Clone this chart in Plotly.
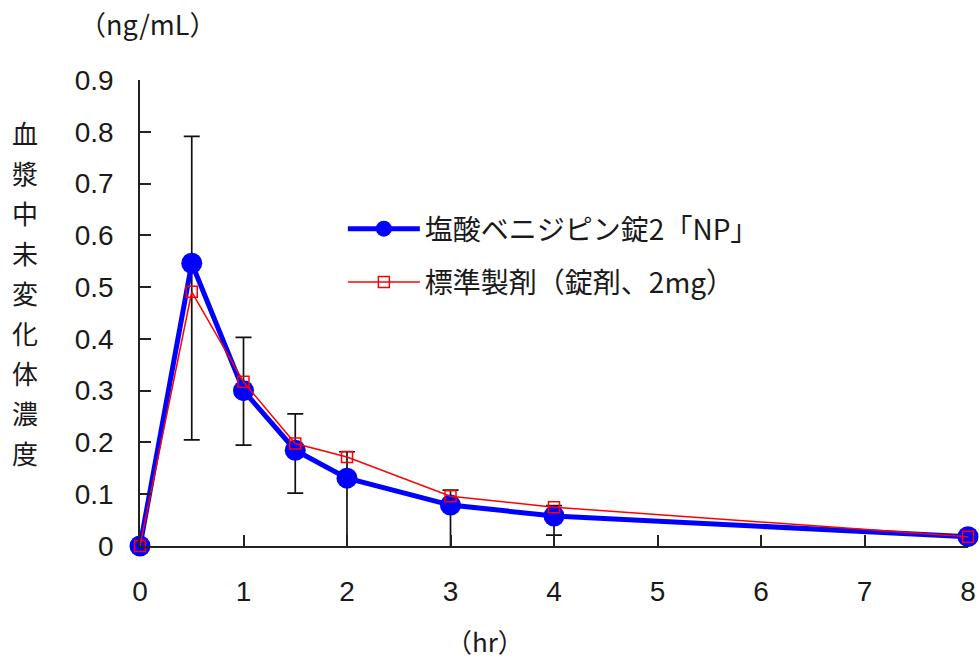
import plotly.graph_objects as go

time_hr = [0, 0.5, 1, 1.5, 2, 3, 4, 8]
test_drug = [0.0, 0.546, 0.300, 0.185, 0.131, 0.079, 0.058, 0.018]
reference_drug = [0.0, 0.491, 0.317, 0.198, 0.172, 0.096, 0.075, 0.018]
# error bar extents (absolute values)
err_center = [0.0, 0.491, 0.300, 0.185, 0.131, 0.079, 0.058, 0.018]
err_top = [0.0, 0.791, 0.403, 0.255, 0.182, 0.108, 0.078, 0.018]
err_bottom = [0.0, 0.205, 0.195, 0.102, -0.02, -0.02, 0.021, 0.018]

x_ticks = [0, 1, 2, 3, 4, 5, 6, 7, 8]
y_ticks = [0, 0.1, 0.2, 0.3, 0.4, 0.5, 0.6, 0.7, 0.8, 0.9]
y_tick_text = ["0", "0.1", "0.2", "0.3", "0.4", "0.5", "0.6", "0.7", "0.8", "0.9"]

name_test = "塩酸ベニジピン錠2「NP」"
name_ref = "標準製剤（錠剤、2mg）"
y_title = "血漿中未変化体濃度"

up = [t - c for t, c in zip(err_top, err_center)]
down = [c - b for c, b in zip(err_center, err_bottom)]
capped = [b >= 0 for b in err_bottom]

fig = go.Figure()

ERR_COLOR = "#111111"
# error bars with caps on both ends
fig.add_trace(go.Scatter(
    x=[t for t, k in zip(time_hr, capped) if k],
    y=[c for c, k in zip(err_center, capped) if k],
    mode="markers", marker=dict(size=1, color="rgba(0,0,0,0)"),
    error_y=dict(type="data", symmetric=False,
                 array=[u for u, k in zip(up, capped) if k],
                 arrayminus=[d for d, k in zip(down, capped) if k],
                 color=ERR_COLOR, thickness=1.7, width=8),
    showlegend=False, hoverinfo="skip", cliponaxis=False))
# error bars whose lower end runs below the axis (no lower cap visible)
fig.add_trace(go.Scatter(
    x=[t for t, k in zip(time_hr, capped) if not k],
    y=[c for c, k in zip(err_center, capped) if not k],
    mode="markers", marker=dict(size=1, color="rgba(0,0,0,0)"),
    error_y=dict(type="data", symmetric=False,
                 array=[u for u, k in zip(up, capped) if not k],
                 arrayminus=[0] * sum(1 for k in capped if not k),
                 color=ERR_COLOR, thickness=1.7, width=8),
    showlegend=False, hoverinfo="skip", cliponaxis=False))
fig.add_trace(go.Scatter(
    x=[t for t, k in zip(time_hr, capped) if not k],
    y=[c for c, k in zip(err_center, capped) if not k],
    mode="markers", marker=dict(size=1, color="rgba(0,0,0,0)"),
    error_y=dict(type="data", symmetric=False,
                 array=[0] * sum(1 for k in capped if not k),
                 arrayminus=[d for d, k in zip(down, capped) if not k],
                 color=ERR_COLOR, thickness=1.7, width=0),
    showlegend=False, hoverinfo="skip", cliponaxis=False))

fig.add_trace(go.Scatter(
    x=time_hr, y=test_drug, name=name_test, mode="lines+markers",
    line=dict(color="#0000ff", width=5),
    marker=dict(symbol="circle", size=21, color="#0000ff"),
    legendgroup="a", cliponaxis=False))
fig.add_trace(go.Scatter(
    x=time_hr, y=reference_drug, name=name_ref, mode="lines+markers",
    line=dict(color="#ff0000", width=1.5),
    marker=dict(symbol="square-open", size=11, color="#ff0000", line=dict(width=1.5)),
    legendgroup="b", cliponaxis=False))

font_fam = "Liberation Sans, Noto Sans CJK JP, sans-serif"
jp_font = "Noto Sans CJK JP, sans-serif"
TXT = "#1a1a1a"

fig.update_layout(
    width=979, height=661,
    margin=dict(l=140, r=11, t=80, b=115),
    plot_bgcolor="white", paper_bgcolor="white",
    font=dict(family=font_fam, size=28, color=TXT),
    showlegend=True,
    legend=dict(x=0.245, y=0.734, xanchor="left", yanchor="top",
                font=dict(family=jp_font, size=28, color=TXT),
                traceorder="grouped", tracegroupgap=14, itemwidth=72,
                bgcolor="rgba(0,0,0,0)"),
    xaxis=dict(range=[0, 8], tickvals=x_ticks, ticks="inside", ticklen=11,
               tickwidth=1.5, tickcolor="#222", showline=True, linecolor="#222",
               linewidth=1.5, showgrid=False, zeroline=False, automargin=False,
               ticklabelstandoff=20, tickfont=dict(size=28, family=font_fam)),
    yaxis=dict(range=[0, 0.9], tickvals=y_ticks, ticktext=y_tick_text,
               ticks="inside", ticklen=11, tickwidth=1.5, tickcolor="#222",
               showline=True, linecolor="#222", linewidth=1.5, showgrid=False,
               zeroline=False, automargin=False,
               ticklabelstandoff=19, tickfont=dict(size=28, family=font_fam)),
)

annotations = [
    dict(text="（ng/mL）", x=0, y=1.0, xref="paper", yref="paper",
         xanchor="center", yanchor="middle", showarrow=False,
         font=dict(family=jp_font, size=27, color=TXT),
         xshift=7, yshift=57),
    dict(text="（hr）", x=0, y=0.0, xref="paper", yref="paper",
         xanchor="center", yanchor="middle", showarrow=False,
         font=dict(family=jp_font, size=26, color=TXT), xshift=345, yshift=-94),
]
for i, ch in enumerate(y_title):
    annotations.append(dict(text=ch, x=0, y=1, xref="paper", yref="paper",
                            xanchor="center", yanchor="middle", showarrow=False,
                            font=dict(family=jp_font, size=26, color=TXT),
                            xshift=-115, yshift=-(52 + i * 40)))
fig.update_layout(annotations=annotations)

fig.write_html("out.html",
               config={"displayModeBar": False},
               post_script="document.body.style.margin='0';"
                           "document.body.style.overflow='hidden';")
